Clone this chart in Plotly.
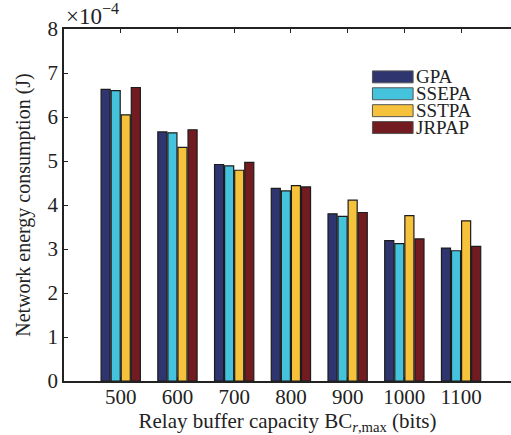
import plotly.graph_objects as go

# Data (values in units of 1e-4 J)
categories = [500, 600, 700, 800, 900, 1000, 1100]
series_names = ["GPA", "SSEPA", "SSTPA", "JRPAP"]
gpa   = [6.63, 5.66, 4.92, 4.38, 3.80, 3.19, 3.02]
ssepa = [6.60, 5.64, 4.89, 4.32, 3.74, 3.12, 2.96]
sstpa = [6.05, 5.31, 4.79, 4.44, 4.11, 3.76, 3.64]
jrpap = [6.67, 5.71, 4.97, 4.41, 3.83, 3.23, 3.06]
y_ticks = [0, 1, 2, 3, 4, 5, 6, 7, 8]

colors = ["#2E356F", "#45C3DD", "#F6C23C", "#721C21"]
font_family = "Liberation Serif, Times New Roman, serif"
txt = "#222222"

fig = go.Figure()
for name, vals, col in zip(series_names, [gpa, ssepa, sstpa, jrpap], colors):
    fig.add_trace(go.Bar(
        x=categories, y=vals, name=name,
        marker=dict(color=col, line=dict(color="#1c1c1c", width=1.2)),
        showlegend=False,
    ))

# Custom legend (long swatches)
leg_y = [0.864, 0.816, 0.768, 0.720]
for name, col, yc in zip(series_names, colors, leg_y):
    fig.add_shape(type="rect", xref="paper", yref="paper",
                  x0=0.690, x1=0.781, y0=yc - 0.017, y1=yc + 0.017,
                  fillcolor=col, line=dict(color="#555555", width=1))
    fig.add_annotation(xref="paper", yref="paper", x=0.781, y=yc, xshift=1,
                       text=name, showarrow=False, xanchor="left", yanchor="middle",
                       font=dict(family=font_family, size=19, color=txt))

fig.add_annotation(xref="paper", yref="paper", x=0.0, y=1.0, yshift=-2,
                   text="×10<sup>−4</sup>", showarrow=False,
                   xanchor="left", yanchor="bottom",
                   font=dict(family=font_family, size=23, color=txt))

fig.update_layout(
    width=511, height=435,
    margin=dict(l=64, r=0, t=29, b=54),
    paper_bgcolor="white", plot_bgcolor="white",
    barmode="group", bargap=0.29, bargroupgap=0.1,
    font=dict(family=font_family, size=21, color=txt),
    showlegend=False,
    yaxis2=dict(overlaying="y", side="right", range=[0, 8], tickvals=y_ticks,
                ticks="inside", ticklen=4, tickcolor=txt, showticklabels=False,
                showline=False, showgrid=False, zeroline=False),
)
fig.update_xaxes(
    range=[400, 1188], tickvals=categories, ticktext=[str(c) for c in categories],
    ticks="inside", ticklen=4, tickcolor=txt, mirror="ticks",
    showline=True, linecolor=txt, linewidth=1.5, showgrid=False, zeroline=False,
    tickfont=dict(size=21), ticklabelstandoff=-4,
    title=dict(text="Relay buffer capacity BC<sub><i>r</i>,max</sub> (bits)", standoff=6,
               font=dict(size=21)),
)
fig.layout.yaxis.update(
    range=[0, 8], tickvals=y_ticks,
    ticks="inside", ticklen=4, tickcolor=txt, mirror=False,
    showline=True, linecolor=txt, linewidth=1.5, showgrid=False, zeroline=False,
    tickfont=dict(size=21),
    title=dict(text="Network energy consumption (J)", standoff=12, font=dict(size=20)),
)

fig.write_html("out.html")
